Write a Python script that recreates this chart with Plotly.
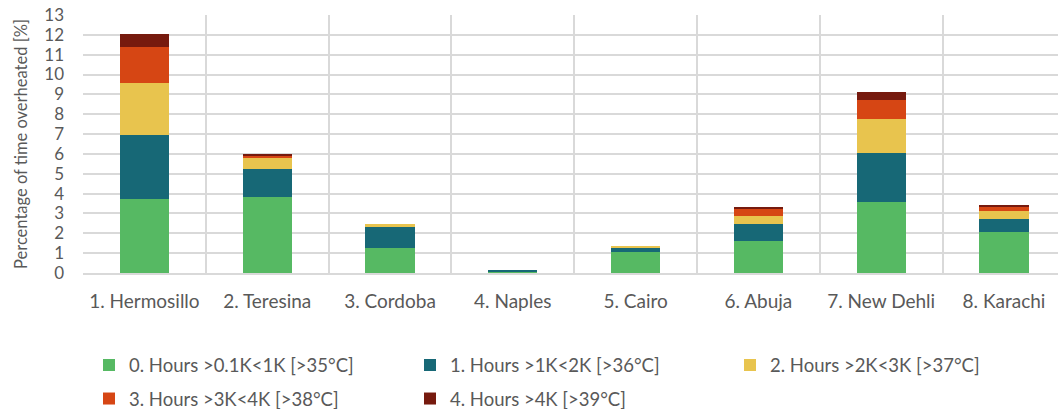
import plotly.graph_objects as go

cities = ["1. Hermosillo", "2. Teresina", "3. Cordoba", "4. Naples", "5. Cairo",
          "6. Abuja", "7. New Dehli", "8. Karachi"]
hours_0 = [3.75, 3.82, 1.27, 0.07, 1.07, 1.63, 3.59, 2.08]
hours_1 = [3.22, 1.43, 1.06, 0.10, 0.22, 0.85, 2.48, 0.64]
hours_2 = [2.61, 0.54, 0.15, 0.00, 0.07, 0.37, 1.70, 0.42]
hours_3 = [1.79, 0.15, 0.00, 0.00, 0.00, 0.40, 0.94, 0.23]
hours_4 = [0.69, 0.02, 0.00, 0.00, 0.00, 0.03, 0.43, 0.03]
series_names = ["0. Hours >0.1K<1K [>35°C]", "1. Hours >1K<2K [>36°C]",
                "2. Hours >2K<3K [>37°C]", "3. Hours >3K<4K [>38°C]",
                "4. Hours >4K [>39°C]"]
y_ticks = list(range(0, 14))

colors = ["#56B963", "#176876", "#E8C44E", "#D64614", "#761A0E"]
series = [hours_0, hours_1, hours_2, hours_3, hours_4]
legend_ids = ["legend", "legend2", "legend3", "legend4", "legend5"]
legend_pos = [(89, 365.5), (410, 365.5), (730, 365.5), (89, 399), (410, 399)]

FONT = "Lato"
TXT = "#595959"
FS = 19
W, H = 1058, 409

fig = go.Figure()
for vals, name, col, lid in zip(series, series_names, colors, legend_ids):
    fig.add_trace(go.Bar(x=cities, y=vals, name=name, marker_color=col,
                         marker_line_width=0, legend=lid, showlegend=True))

layout_legends = {}
for lid, (px, py) in zip(legend_ids, legend_pos):
    layout_legends[lid] = dict(x=px / W, y=1 - py / H, xref="container", yref="container",
                               xanchor="left", yanchor="middle", orientation="h",
                               font=dict(family=FONT, size=18.5, color=TXT),
                               bgcolor="rgba(0,0,0,0)", borderwidth=0)

fig.update_layout(
    showlegend=True,
    barmode="stack",
    bargap=0.6,
    width=W, height=H,
    paper_bgcolor="white", plot_bgcolor="white",
    margin=dict(l=83, r=0, t=15, b=136),
    font=dict(family=FONT, size=FS, color=TXT),
    xaxis=dict(tickson="boundaries", showgrid=True, gridcolor="#D9D9D9", gridwidth=1.5,
               range=[-0.5, 7.44], ticks="", showline=True, linecolor="#D9D9D9", linewidth=1.5,
               tickfont=dict(family=FONT, size=FS, color=TXT), ticklabelstandoff=10),
    yaxis=dict(range=[0, 13], tickvals=y_ticks, showgrid=True, gridcolor="#D9D9D9", gridwidth=1.5,
               zeroline=False, ticks="", ticklabelstandoff=18,
               title=dict(text="Percentage of time overheated [%]",
                          font=dict(family=FONT, size=16.5, color=TXT), standoff=12),
               tickfont=dict(family=FONT, size=17, color=TXT)),
    **layout_legends,
)

fig.write_html("out.html", config={"displayModeBar": False},
               post_script="document.body.style.margin='0px';")
